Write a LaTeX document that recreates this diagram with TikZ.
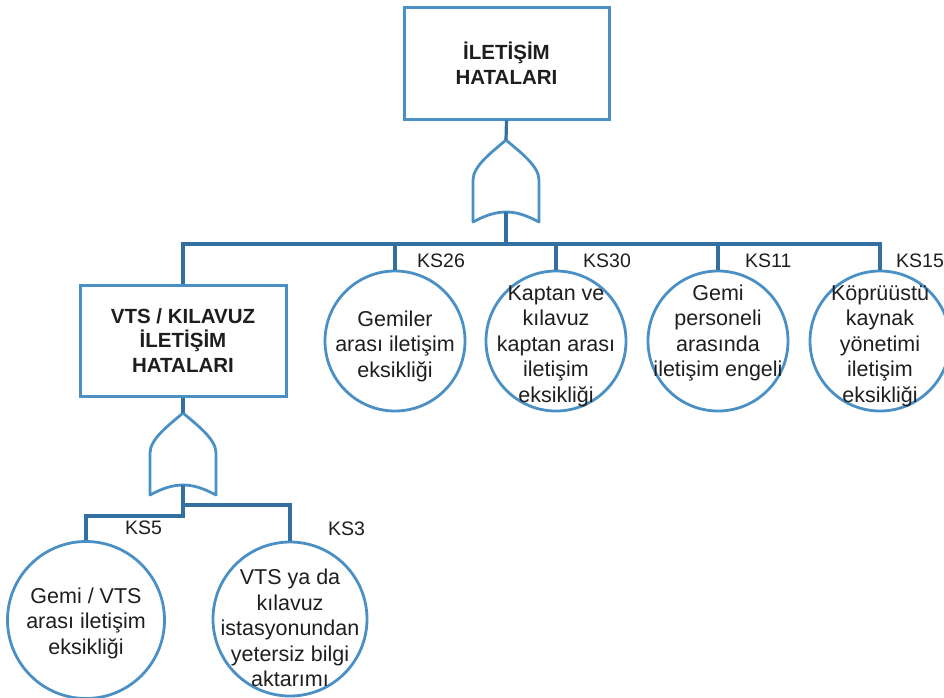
\documentclass[tikz,border=0pt]{standalone}
\usepackage{fontspec}
\setmainfont{Liberation Sans}
\usetikzlibrary{calc}

\definecolor{shapeblue}{HTML}{4A90C4}
\definecolor{wireblue}{HTML}{336FA0}
\definecolor{inkgray}{HTML}{1E1E1E}

\tikzset{
  evbox/.style={draw=shapeblue, line width=3pt, fill=white, inner sep=0pt,
    align=center, text=inkgray, font=\bfseries\fontsize{20.5}{24.5}\selectfont},
  evcircle/.style={draw=shapeblue, line width=2.8pt, circle, inner sep=0pt},
  evtext/.style={align=center, inner sep=0pt, text=inkgray,
    font=\fontsize{21.5}{25.5}\selectfont},
  kslabel/.style={anchor=west, inner sep=0pt, text=inkgray,
    font=\fontsize{19.5}{23}\selectfont},
  wire/.style={draw=wireblue, line width=3.2pt},
  pics/orgate/.style={code={
    \draw[shapeblue, line width=2.8pt, fill=white, line join=round]
      (-33,82) -- (-33,40)
      .. controls (-33,26) and (-14,12) .. (0,0)
      .. controls (14,12) and (33,26) .. (33,40)
      -- (33,82)
      .. controls (20,75) and (10,72) .. (0,72)
      .. controls (-10,72) and (-20,75) .. (-33,82) -- cycle;
    \coordinate (-tip) at (0,0);
    \coordinate (-out) at (0,72);
  }}
}

\begin{document}
\begin{tikzpicture}[x=1pt, y=-1pt]
  \useasboundingbox (0,0) rectangle (944,697);

  % top event and its OR gate
  \node[evbox, minimum width=205pt, minimum height=112pt] (top) at (506.5,63) {İLETİŞİM\\HATALARI};
  \pic (g1) at (506,140) {orgate};

  % intermediate event and its OR gate
  \node[evbox, minimum width=206pt, minimum height=111pt] (vts) at (183,340.5)
    {VTS / KILAVUZ\\İLETİŞİM\\HATALARI};
  \pic (g2) at (183,413) {orgate};

  % basic events, first level
  \node[evcircle, minimum size=140pt] (c26) at (395,341) {};
  \node[evcircle, minimum size=140pt] (c30) at (556,341) {};
  \node[evcircle, minimum size=140pt] (c11) at (718,341) {};
  \node[evcircle, minimum size=140pt] (c15) at (880,341) {};

  \node[evtext] (t26) at (395,346) {Gemiler\\arası iletişim\\eksikliği};
  \node[evtext] (t30) at (556,346) {Kaptan ve\\kılavuz\\kaptan arası\\iletişim\\eksikliği};
  \node[evtext] (t11) at (718,333) {Gemi\\personeli\\arasında\\iletişim engeli};
  \node[evtext] (t15) at (880,346) {Köprüüstü\\kaynak\\yönetimi\\iletişim\\eksikliği};

  % basic events, second level
  \node[evcircle, minimum size=157pt] (c5) at (86,620) {};
  \node[evcircle, minimum size=154pt] (c3) at (290,619) {};

  \node[evtext] (t5) at (86,623) {Gemi / VTS\\arası iletişim\\eksikliği};
  \node[evtext] (t3) at (290,628) {VTS ya da\\kılavuz\\istasyonundan\\yetersiz bilgi\\aktarımı};

  % junction points of the buses
  \coordinate (busL) at (183,244);
  \coordinate (busM) at (506,244);
  \coordinate (lowL) at (183,516);
  \coordinate (lowR) at (183,505);

  % connectors
  \draw[wire] (top.south) -- (g1-tip);
  \draw[wire] (g1-out) -- (busM);
  \draw[wire] (vts.north) -- (busL) -| (c15.north);
  \draw[wire] (busL -| c26.north) -- (c26.north);
  \draw[wire] (busL -| c30.north) -- (c30.north);
  \draw[wire] (busL -| c11.north) -- (c11.north);

  \draw[wire] (vts.south) -- (g2-tip);
  \draw[wire] (g2-out) -- (lowL) -| (c5.north);
  \draw[wire] (lowR) -| (c3.north);

  % event codes
  \node[kslabel] (k26) at ($(c26.north)+(22,-9)$) {KS26};
  \node[kslabel] (k30) at ($(c30.north)+(27,-9)$) {KS30};
  \node[kslabel] (k11) at ($(c11.north)+(27,-9)$) {KS11};
  \node[kslabel] (k15) at ($(c15.north)+(16,-9)$) {KS15};
  \node[kslabel] (k5) at ($(c5.north)+(39,-12)$) {KS5};
  \node[kslabel] (k3) at ($(c3.north)+(38,-12)$) {KS3};
\end{tikzpicture}
\end{document}
